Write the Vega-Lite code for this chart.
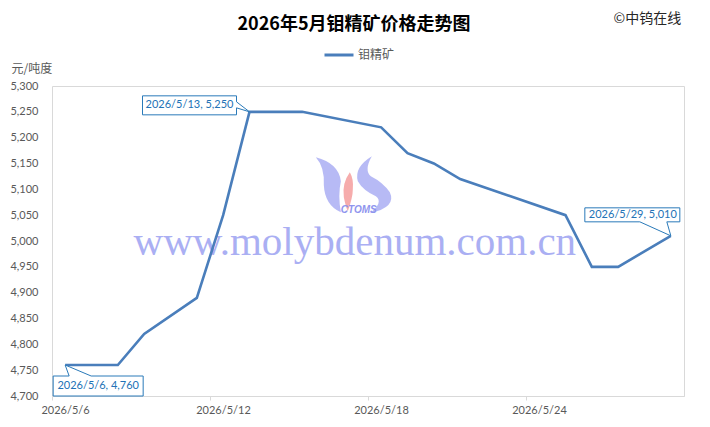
{
  "$schema": "https://vega.github.io/schema/vega-lite/v6.json",
  "width": 632,
  "height": 310,
  "autosize": {"type": "none"},
  "padding": {"left": 52, "top": 86, "right": 26, "bottom": 31},
  "background": "white",
  "config": {"view": {"stroke": "#d9d9d9", "strokeWidth": 1}, "font": "Lato"},
  "title": {
    "text": "2026年5月钼精矿价格走势图",
    "font": "Noto Sans CJK SC",
    "fontSize": 18,
    "fontWeight": "bold",
    "color": "#000000",
    "anchor": "middle",
    "frame": "group",
    "offset": -18,
    "dx": -14,
    "dy": 19,
    "baseline": "alphabetic"
  },
  "datasets": {
    "price": [
      {"date": "2026-05-06", "value": 4760},
      {"date": "2026-05-08", "value": 4760},
      {"date": "2026-05-09", "value": 4820},
      {"date": "2026-05-11", "value": 4890},
      {"date": "2026-05-12", "value": 5050},
      {"date": "2026-05-13", "value": 5250},
      {"date": "2026-05-15", "value": 5250},
      {"date": "2026-05-18", "value": 5220},
      {"date": "2026-05-19", "value": 5170},
      {"date": "2026-05-20", "value": 5150},
      {"date": "2026-05-21", "value": 5120},
      {"date": "2026-05-25", "value": 5050},
      {"date": "2026-05-26", "value": 4950},
      {"date": "2026-05-27", "value": 4950},
      {"date": "2026-05-29", "value": 5010}
    ],
    "callouts": [
      {"date": "2026-05-06", "value": 4760, "text": "2026/5/6, 4,760"},
      {"date": "2026-05-13", "value": 5250, "text": "2026/5/13, 5,250"},
      {"date": "2026-05-29", "value": 5010, "text": "2026/5/29, 5,010"}
    ],
    "watermark": [{"date": "2026-05-17", "value": 4973, "text": "www.molybdenum.com.cn"}],
    "logo": [{"date": "2026-05-17", "value": 5108, "text": "CTOMS"}]
  },
  "layer": [
    {
      "encoding": {
        "x": {
          "field": "date", "type": "temporal", "title": null,
          "scale": {"type": "utc", "domain": [
            {"year": 2026, "month": 5, "date": 5, "hours": 12, "utc": true},
            {"year": 2026, "month": 5, "date": 29, "hours": 12, "utc": true}
          ]}
        },
        "y": {
          "field": "value", "type": "quantitative", "title": null,
          "scale": {"domain": [4700, 5300], "nice": false, "zero": false},
          "axis": {
            "orient": "right", "title": "©中钨在线", "titleAngle": 0, "titleAlign": "left",
            "titleBaseline": "middle", "titleX": -71, "titleY": -68,
            "titleFont": "Noto Sans CJK SC", "titleFontSize": 14, "titleFontWeight": "normal",
            "titleColor": "#262626", "labels": false, "ticks": false, "domain": false, "grid": false
          }
        }
      },
      "layer": [
        {
          "data": {"name": "watermark"},
          "mark": {"type": "text", "font": "Liberation Serif", "fontSize": 41, "color": "#9ca2f2", "opacity": 0.85, "align": "center", "baseline": "alphabetic"},
          "encoding": {"text": {"field": "text"}}
        },
        {
          "data": {"name": "logo"},
          "mark": {"type": "point", "shape": "M-0.39,-0.28Q-0.3,-0.18,-0.31,0Q-0.3,0.2,-0.14,0.27Q-0.17,0.1,-0.14,-0.04Q-0.16,-0.22,-0.39,-0.28ZM0.17,-0.29Q-0.01,-0.18,0.03,-0.04Q0.08,0.05,0.21,0.11Q0.29,0.17,0.15,0.28Q0.42,0.22,0.35,0.07Q0.28,-0.03,0.16,-0.09Q0.09,-0.15,0.17,-0.29Z", "size": 40000, "filled": true, "fill": "#aaaef3", "strokeWidth": 0, "opacity": 0.85}
        },
        {
          "data": {"name": "logo"},
          "mark": {"type": "point", "shape": "M-0.05,-0.13Q-0.13,-0.02,-0.11,0.12Q-0.09,0.22,-0.07,0.26Q-0.02,0.12,-0.02,0.04Q-0.01,-0.06,-0.05,-0.13Z", "size": 40000, "filled": true, "fill": "#f5a3a3", "strokeWidth": 0, "opacity": 0.9}
        },
        {
          "data": {"name": "logo"},
          "mark": {"type": "text", "font": "Liberation Sans", "fontSize": 10, "fontStyle": "italic", "fontWeight": "bold", "color": "#8f95ee", "dx": 4, "dy": 25, "align": "center", "baseline": "middle"},
          "encoding": {"text": {"field": "text"}}
        }
      ]
    },
    {
      "encoding": {
        "x": {
          "field": "date", "type": "temporal", "title": null,
          "scale": {"type": "utc", "domain": [
            {"year": 2026, "month": 5, "date": 5, "hours": 12, "utc": true},
            {"year": 2026, "month": 5, "date": 29, "hours": 12, "utc": true}
          ]},
          "axis": {
            "values": [
              {"year": 2026, "month": 5, "date": 5, "hours": 12, "utc": true},
              {"year": 2026, "month": 5, "date": 11, "hours": 12, "utc": true},
              {"year": 2026, "month": 5, "date": 17, "hours": 12, "utc": true},
              {"year": 2026, "month": 5, "date": 23, "hours": 12, "utc": true}
            ],
            "labelExpr": "utcFormat(time(datum.value) + 43200000, '%Y/%-m/%-d')",
            "labelOffset": 13, "labelFlush": false, "labelColor": "#595959", "labelFontSize": 11,
            "labelFont": "Lato", "tickColor": "#d9d9d9", "tickSize": 4, "domainColor": "#d9d9d9",
            "grid": false, "labelPadding": 4
          }
        },
        "y": {
          "field": "value", "type": "quantitative", "title": null,
          "scale": {"domain": [4700, 5300], "nice": false, "zero": false},
          "axis": {
            "values": [4700, 4750, 4800, 4850, 4900, 4950, 5000, 5050, 5100, 5150, 5200, 5250, 5300],
            "format": ",d", "labelColor": "#595959", "labelFontSize": 11, "labelFont": "Lato",
            "labelPadding": 14, "ticks": false, "domain": false, "gridColor": "#d9d9d9",
            "title": "元/吨度", "titleAngle": 0, "titleAlign": "left", "titleBaseline": "middle",
            "titleX": -41, "titleY": -18, "titleFont": "Noto Sans CJK SC", "titleFontSize": 12,
            "titleFontWeight": "normal", "titleColor": "#595959"
          }
        }
      },
      "layer": [
        {
          "data": {"name": "price"},
          "mark": {"type": "line", "strokeWidth": 2.6},
          "encoding": {
            "color": {
              "datum": "钼精矿", "type": "nominal",
              "scale": {"range": ["#4a7ebb"]},
              "legend": {
                "orient": "none", "legendX": 271, "legendY": -47, "title": null,
                "symbolType": "stroke", "symbolSize": 841, "symbolStrokeWidth": 3,
                "labelFont": "Noto Sans CJK SC", "labelFontSize": 12, "labelColor": "#595959",
                "labelOffset": 3, "padding": 0
              }
            }
          }
        },
        {
          "data": {"name": "callouts"},
          "transform": [{"filter": "datum.value == 4760"}],
          "layer": [
            {"mark": {"type": "point", "shape": "M-0.12,0.11H0.04L0,0L0.26,0.11H0.78V0.31H-0.12Z", "size": 40000, "filled": true, "fill": "white", "stroke": "#2a7ab9", "strokeWidth": 1, "opacity": 1}},
            {"mark": {"type": "text", "fontSize": 11, "font": "Lato", "color": "#2272b6", "dx": 33, "dy": 21, "align": "center", "baseline": "middle"}, "encoding": {"text": {"field": "text"}}}
          ]
        },
        {
          "data": {"name": "callouts"},
          "transform": [{"filter": "datum.value == 5250"}],
          "layer": [
            {"mark": {"type": "point", "shape": "M-1.07,-0.16H-0.13V-0.1L0,0L-0.13,-0.04V0.03H-1.07Z", "size": 40000, "filled": true, "fill": "white", "stroke": "#2a7ab9", "strokeWidth": 1, "opacity": 1}},
            {"mark": {"type": "text", "fontSize": 11, "font": "Lato", "color": "#2272b6", "dx": -60, "dy": -6.5, "align": "center", "baseline": "middle"}, "encoding": {"text": {"field": "text"}}}
          ]
        },
        {
          "data": {"name": "callouts"},
          "transform": [{"filter": "datum.value == 5010"}],
          "layer": [
            {"mark": {"type": "point", "shape": "M-0.86,-0.28H0.09V-0.14H-0.04L0,0L-0.31,-0.14H-0.86Z", "size": 40000, "filled": true, "fill": "white", "stroke": "#2a7ab9", "strokeWidth": 1, "opacity": 1}},
            {"mark": {"type": "text", "fontSize": 11, "font": "Lato", "color": "#2272b6", "dx": -38, "dy": -21, "align": "center", "baseline": "middle"}, "encoding": {"text": {"field": "text"}}}
          ]
        }
      ]
    }
  ],
  "resolve": {"scale": {"y": "independent"}}
}
